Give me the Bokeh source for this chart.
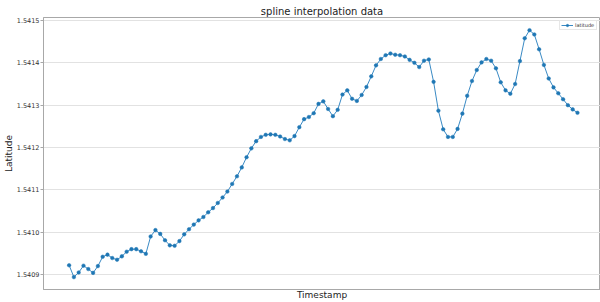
from bokeh.plotting import figure
from bokeh.models import Range1d, FixedTicker, PrintfTickFormatter, Legend, LegendItem
from bokeh.embed import file_html
from bokeh.resources import INLINE

title_text = "spline interpolation data"
x_label = "Timestamp"
y_label = "Latitude"
series_name = "latitude"

latitude = [
    1.540922, 1.540894, 1.540905, 1.540921, 1.540913, 1.540904, 1.540920, 1.540942,
    1.540947, 1.540939, 1.540935, 1.540943, 1.540954, 1.540960, 1.540960, 1.540955,
    1.540949, 1.540990, 1.541005, 1.540996, 1.540981, 1.540969, 1.540968, 1.540979,
    1.540995, 1.541007, 1.541018, 1.541028, 1.541036, 1.541047, 1.541057, 1.541069,
    1.541082, 1.541096, 1.541114, 1.541132, 1.541153, 1.541177, 1.541198, 1.541215,
    1.541225, 1.541230, 1.541231, 1.541230, 1.541226, 1.541220, 1.541217, 1.541227,
    1.541248, 1.541267, 1.541272, 1.541281, 1.541303, 1.541309, 1.541291, 1.541274,
    1.541289, 1.541325, 1.541335, 1.541315, 1.541310, 1.541324, 1.541343, 1.541368,
    1.541394, 1.541409, 1.541418, 1.541422, 1.541419, 1.541418, 1.541415, 1.541407,
    1.541400, 1.541390, 1.541405, 1.541408, 1.541355, 1.541287, 1.541243, 1.541225,
    1.541225, 1.541244, 1.541280, 1.541322, 1.541357, 1.541383, 1.541401, 1.541409,
    1.541405, 1.541387, 1.541354, 1.541335, 1.541327, 1.541350, 1.541404, 1.541458,
    1.541477, 1.541467, 1.541432, 1.541395, 1.541363, 1.541342, 1.541328, 1.541314,
    1.541300, 1.541290, 1.541282,
]
timestamps = list(range(len(latitude)))

y_ticks = [1.5409, 1.5410, 1.5411, 1.5412, 1.5413, 1.5414, 1.5415]

FONT = "DejaVu Sans"
BLUE = "#1f77b4"
LINE_BLUE = "#3a8ac4"
SPINE = "#a8a8a8"

p = figure(width=600, height=302, output_backend="svg", toolbar_location=None,
           x_range=Range1d(-5.34, 110.8), y_range=Range1d(1.54086475, 1.5415070),
           min_border_top=17, min_border_left=41, min_border_right=0, min_border_bottom=12)

p.title.text = title_text
p.title.text_font = FONT
p.title.text_font_size = "10px"
p.title.text_font_style = "normal"
p.title.text_color = "#222222"
p.title.align = "center"
p.title.standoff = 1

p.outline_line_color = SPINE
p.outline_line_width = 1

# x axis: label only, no ticks
p.xaxis.axis_label = x_label
p.xaxis.axis_label_text_font = FONT
p.xaxis.axis_label_text_font_size = "9px"
p.xaxis.axis_label_text_font_style = "normal"
p.xaxis.axis_label_text_color = "#222222"
p.xaxis.axis_label_standoff = 0
p.xaxis.ticker = FixedTicker(ticks=[])
p.xaxis.major_tick_line_color = None
p.xaxis.minor_tick_line_color = None
p.xaxis.major_tick_out = 0
p.xaxis.major_label_standoff = 0
p.xaxis.axis_line_color = SPINE

# y axis
p.yaxis.axis_label = y_label
p.yaxis.axis_label_text_font = FONT
p.yaxis.axis_label_text_font_size = "9px"
p.yaxis.axis_label_text_font_style = "normal"
p.yaxis.axis_label_text_color = "#222222"
p.yaxis.axis_label_standoff = 0
p.yaxis.ticker = FixedTicker(ticks=y_ticks)
p.yaxis.formatter = PrintfTickFormatter(format="%.4f")
p.yaxis.major_label_text_font = FONT
p.yaxis.major_label_text_font_size = "6.5px"
p.yaxis.major_label_text_color = "#333333"
p.yaxis.major_label_standoff = 1
p.yaxis.major_tick_out = 3
p.yaxis.major_tick_in = 0
p.yaxis.major_tick_line_color = SPINE
p.yaxis.minor_tick_line_color = None
p.yaxis.axis_line_color = SPINE

p.xgrid.grid_line_color = None
p.ygrid.grid_line_color = "#e2e2e2"
p.ygrid.grid_line_width = 1

ln = p.line(timestamps, latitude, line_color=LINE_BLUE, line_width=1.0)
sc = p.scatter(timestamps, latitude, marker="circle", size=3.6, fill_color=BLUE,
               line_color=BLUE, line_width=0.5)

legend = Legend(items=[LegendItem(label=series_name, renderers=[ln, sc])], location="top_right")
legend.label_text_font = FONT
legend.label_text_font_size = "5px"
legend.label_text_color = "#333333"
legend.glyph_width = 12
legend.glyph_height = 6
legend.label_height = 6
legend.label_standoff = 2
legend.padding = 1
legend.spacing = 0
legend.margin = 3
legend.border_line_color = "#d0d0d0"
legend.background_fill_alpha = 0.9
p.add_layout(legend)

open("out.html", "w").write(file_html(p, INLINE))
